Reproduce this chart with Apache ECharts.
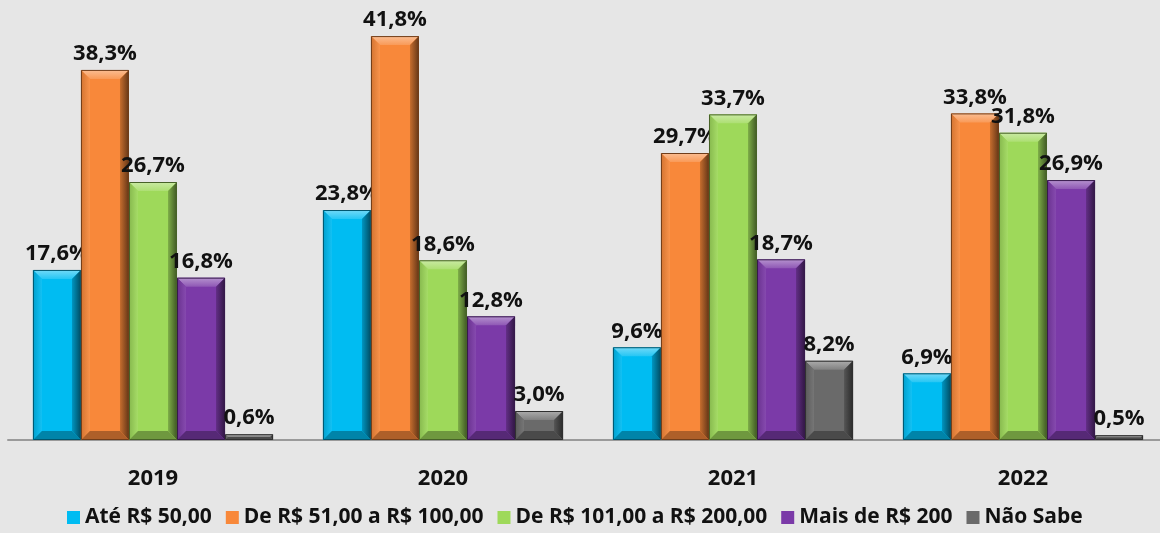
<!DOCTYPE html>
<html>
<head>
<meta charset="utf-8">
<script src="https://cdn.jsdelivr.net/npm/echarts@6/dist/echarts.min.js"></script>
<style>
  html, body { margin: 0; padding: 0; background: #e6e6e6; overflow: hidden; }
  #chart { width: 1176px; height: 533px; }
</style>
</head>
<body>
<div id="chart"></div>
<script>
// Categories (years)
const years = ['2019', '2020', '2021', '2022'];

// Series names
const seriesNames = [
  'Até R$ 50,00',
  'De R$ 51,00 a R$ 100,00',
  'De R$ 101,00 a R$ 200,00',
  'Mais de R$ 200',
  'Não Sabe'
];

// Values (%) per series
const ate50 = [17.6, 23.8, 9.6, 6.9];
const de51a100 = [38.3, 41.8, 29.7, 33.8];
const de101a200 = [26.7, 18.6, 33.7, 31.8];
const mais200 = [16.8, 12.8, 18.7, 26.9];
const naoSabe = [0.6, 3.0, 8.2, 0.5];

const seriesValues = [ate50, de51a100, de101a200, mais200, naoSabe];
const seriesColors = ['#00bcf2', '#f8883a', '#9ed95a', '#7b3aa8', '#6a6a6a'];

const GROUP_GAP = 0.172;   // fraction of category band left empty
const BEVEL = 9;
const FONT = '"Open Sans", "DejaVu Sans", sans-serif';

function shade(hex, f) {
  const n = parseInt(hex.slice(1), 16);
  let r = (n >> 16) & 255, g = (n >> 8) & 255, b = n & 255;
  if (f < 0) { r *= (1 + f); g *= (1 + f); b *= (1 + f); }
  else { r += (255 - r) * f; g += (255 - g) * f; b += (255 - b) * f; }
  return 'rgb(' + Math.round(r) + ',' + Math.round(g) + ',' + Math.round(b) + ')';
}

function fmt(v) { return v.toFixed(1).replace('.', ',') + '%'; }

function makeRender(sIdx) {
  const base = seriesColors[sIdx];
  const n = seriesNames.length;
  return function (params, api) {
    const ci = api.value(0);
    const val = api.value(1);
    const top = api.coord([ci, val]);
    const bot = api.coord([ci, 0]);
    const band = api.size([1, 0])[0];
    const bw = band * (1 - GROUP_GAP) / n;
    const x = bot[0] - band * (1 - GROUP_GAP) / 2 + sIdx * bw;
    const y = top[1];
    const w = bw;
    const h = bot[1] - top[1];
    const b = Math.min(BEVEL, h / 2, w / 2);
    const children = [
      { type: 'rect', shape: { x: x, y: y, width: w, height: h },
        style: { fill: base } },
      // top bevel
      { type: 'polygon', shape: { points: [[x, y], [x + w, y], [x + w - b, y + b], [x + b, y + b]] },
        style: { fill: new echarts.graphic.LinearGradient(0, 0, 0, 1, [
          { offset: 0, color: shade(base, 0.45) }, { offset: 1, color: shade(base, 0.15) }]) } },
      // left bevel
      { type: 'polygon', shape: { points: [[x, y], [x + b, y + b], [x + b, y + h - b], [x, y + h]] },
        style: { fill: new echarts.graphic.LinearGradient(0, 0, 1, 0, [
          { offset: 0, color: shade(base, -0.15) }, { offset: 1, color: shade(base, 0.08) }]) } },
      // right bevel
      { type: 'polygon', shape: { points: [[x + w, y], [x + w, y + h], [x + w - b, y + h - b], [x + w - b, y + b]] },
        style: { fill: new echarts.graphic.LinearGradient(0, 0, 1, 0, [
          { offset: 0, color: shade(base, -0.2) }, { offset: 1, color: shade(base, -0.6) }]) } },
      // bottom bevel
      { type: 'polygon', shape: { points: [[x, y + h], [x + w, y + h], [x + w - b, y + h - b], [x + b, y + h - b]] },
        style: { fill: shade(base, -0.3) } },
      // outline
      { type: 'rect', shape: { x: x + 0.5, y: y + 0.5, width: w - 1, height: Math.max(h - 1, 0) },
        style: { fill: null, stroke: shade(base, -0.55), lineWidth: 1 } },
      // value label
      { type: 'text', style: {
          text: fmt(val), x: x + w / 2, y: y - 5,
          align: 'center', verticalAlign: 'bottom',
          font: 'bold 22px ' + FONT, fill: '#111' } }
    ];
    return { type: 'group', children: children };
  };
}

const chart = echarts.init(document.getElementById('chart'), null, { renderer: 'canvas' });

const series = seriesNames.map((name, i) => ({
  type: 'custom',
  name: name,
  itemStyle: { color: seriesColors[i] },
  renderItem: makeRender(i),
  encode: { x: 0, y: 1 },
  data: seriesValues[i].map((v, ci) => [ci, v])
}));

chart.setOption({
  backgroundColor: '#e6e6e6',
  animation: false,
  grid: { left: 8, top: 10, width: 1160, bottom: 93, containLabel: false },
  xAxis: {
    type: 'category',
    data: years,
    axisLine: { show: true, lineStyle: { color: '#9a9a9a', width: 2 } },
    axisTick: { show: false },
    axisLabel: { margin: 28, fontSize: 22, fontWeight: 'bold', color: '#111', fontFamily: FONT }
  },
  yAxis: {
    type: 'value', min: 0, max: 44.5,
    show: false, splitLine: { show: false }
  },
  legend: {
    bottom: 0, left: 62,
    icon: 'rect', itemWidth: 13, itemHeight: 13, itemGap: 14,
    textStyle: { fontSize: 21, fontWeight: 'bold', color: '#111', fontFamily: FONT },
    data: seriesNames
  },
  series: series
});
</script>
</body>
</html>
